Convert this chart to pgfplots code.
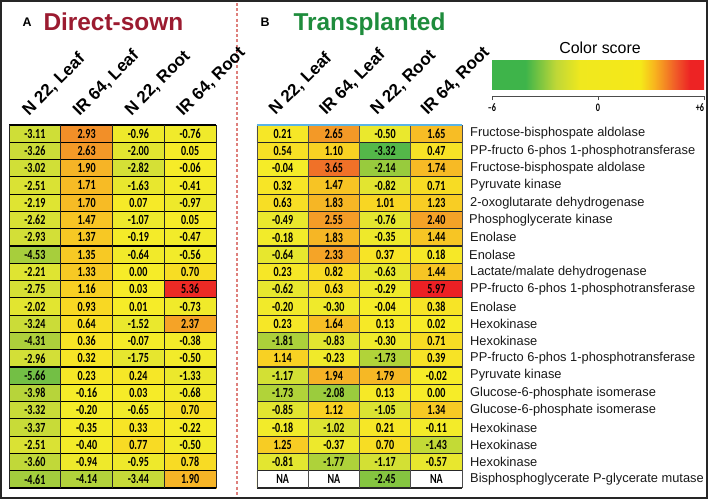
\documentclass[border=0pt]{standalone}
\usepackage{pgfplots}
\pgfplotsset{compat=1.18}
\usepackage{pgfplotstable}
\usepackage{fontspec}
\setmainfont{Liberation Sans}
\newfontfamily\numfont[FakeStretch=0.72]{Carlito}
\definecolor{dsred}{RGB}{155,27,48}
\definecolor{tpgreen}{RGB}{30,140,60}
\definecolor{dashred}{RGB}{222,128,124}
\definecolor{topblue}{RGB}{90,180,230}
\pgfdeclarehorizontalshading{cscore}{100bp}{rgb(0bp)=(0.243,0.706,0.290); rgb(25bp)=(0.243,0.706,0.290); rgb(32.9bp)=(0.243,0.706,0.290); rgb(40bp)=(0.745,0.843,0.216); rgb(45.8bp)=(0.941,0.910,0.118); rgb(60bp)=(0.961,0.910,0.098); rgb(63.3bp)=(0.973,0.706,0.118); rgb(68.3bp)=(0.941,0.353,0.157); rgb(71.7bp)=(0.929,0.137,0.141); rgb(75bp)=(0.929,0.137,0.141); rgb(100bp)=(0.929,0.137,0.141)}

\pgfplotsset{
  colormap={cmA}{rgb255(0pt)=(100,186,72); rgb255(3pt)=(168,206,60); rgb255(6pt)=(210,223,55); rgb255(9pt)=(234,232,45); rgb255(12pt)=(246,236,40); rgb255(14pt)=(248,214,35); rgb255(16pt)=(246,176,38); rgb255(18pt)=(242,140,40); rgb255(20pt)=(239,98,40); rgb255(22pt)=(236,48,38); rgb255(24pt)=(236,32,36)},
  colormap={cmB}{rgb255(0pt)=(70,180,75); rgb255(5pt)=(75,181,74); rgb255(6pt)=(100,188,70); rgb255(8pt)=(160,205,60); rgb255(10pt)=(222,228,50); rgb255(12pt)=(246,236,40); rgb255(14pt)=(248,214,35); rgb255(16pt)=(246,176,38); rgb255(18pt)=(242,140,40); rgb255(20pt)=(239,98,40); rgb255(22pt)=(236,48,38); rgb255(24pt)=(236,32,36)},
  heat/.style={width=#1, height=363bp, scale only axis, xmin=0.5, xmax=4.5, ymin=0.5, ymax=21.5, y dir=reverse, axis lines=none, clip=false, point meta min=-6, point meta max=6, anchor=north west},
  celltext/.style={only marks, mark=none, point meta=explicit symbolic, nodes near coords, every node near coord/.append style={anchor=center, inner sep=0pt, font=\numfont\bfseries\fontsize{14}{14}\selectfont, text=black}},
}
\tikzset{
  hdr/.style={rotate=45, anchor=base west, inner sep=0pt, font=\bfseries\fontsize{17}{17}\selectfont},
  rlab/.style={anchor=west, inner sep=0pt, text=black!90, font=\fontsize{12.9}{13}\selectfont},
}

\pgfplotstableread{
c r v lab
1 1 -3.11 -3.11
2 1 2.93 2.93
3 1 -0.96 -0.96
4 1 -0.76 -0.76
1 2 -3.26 -3.26
2 2 2.63 2.63
3 2 -2.00 -2.00
4 2 0.05 0.05
1 3 -3.02 -3.02
2 3 1.90 1.90
3 3 -2.82 -2.82
4 3 -0.06 -0.06
1 4 -2.51 -2.51
2 4 1.71 1.71
3 4 -1.63 -1.63
4 4 -0.41 -0.41
1 5 -2.19 -2.19
2 5 1.70 1.70
3 5 0.07 0.07
4 5 -0.97 -0.97
1 6 -2.62 -2.62
2 6 1.47 1.47
3 6 -1.07 -1.07
4 6 0.05 0.05
1 7 -2.93 -2.93
2 7 1.37 1.37
3 7 -0.19 -0.19
4 7 -0.47 -0.47
1 8 -4.53 -4.53
2 8 1.35 1.35
3 8 -0.64 -0.64
4 8 -0.56 -0.56
1 9 -2.21 -2.21
2 9 1.33 1.33
3 9 0.00 0.00
4 9 0.70 0.70
1 10 -2.75 -2.75
2 10 1.16 1.16
3 10 0.03 0.03
4 10 5.36 5.36
1 11 -2.02 -2.02
2 11 0.93 0.93
3 11 0.01 0.01
4 11 -0.73 -0.73
1 12 -3.24 -3.24
2 12 0.64 0.64
3 12 -1.52 -1.52
4 12 2.37 2.37
1 13 -4.31 -4.31
2 13 0.36 0.36
3 13 -0.07 -0.07
4 13 -0.38 -0.38
1 14 -2.96 -2.96
2 14 0.32 0.32
3 14 -1.75 -1.75
4 14 -0.50 -0.50
1 15 -5.66 -5.66
2 15 0.23 0.23
3 15 0.24 0.24
4 15 -1.33 -1.33
1 16 -3.98 -3.98
2 16 -0.16 -0.16
3 16 0.03 0.03
4 16 -0.68 -0.68
1 17 -3.32 -3.32
2 17 -0.20 -0.20
3 17 -0.65 -0.65
4 17 0.70 0.70
1 18 -3.37 -3.37
2 18 -0.35 -0.35
3 18 0.33 0.33
4 18 -0.22 -0.22
1 19 -2.51 -2.51
2 19 -0.40 -0.40
3 19 0.77 0.77
4 19 -0.50 -0.50
1 20 -3.60 -3.60
2 20 -0.94 -0.94
3 20 -0.95 -0.95
4 20 0.78 0.78
1 21 -4.61 -4.61
2 21 -4.14 -4.14
3 21 -3.44 -3.44
4 21 1.90 1.90
}\tabA

\pgfplotstableread{
c r v lab
1 1 0.21 0.21
2 1 2.65 2.65
3 1 -0.50 -0.50
4 1 1.65 1.65
1 2 0.54 0.54
2 2 1.10 1.10
3 2 -3.32 -3.32
4 2 0.47 0.47
1 3 -0.04 -0.04
2 3 3.65 3.65
3 3 -2.14 -2.14
4 3 1.74 1.74
1 4 0.32 0.32
2 4 1.47 1.47
3 4 -0.82 -0.82
4 4 0.71 0.71
1 5 0.63 0.63
2 5 1.83 1.83
3 5 1.01 1.01
4 5 1.23 1.23
1 6 -0.49 -0.49
2 6 2.55 2.55
3 6 -0.76 -0.76
4 6 2.40 2.40
1 7 -0.18 -0.18
2 7 1.83 1.83
3 7 -0.35 -0.35
4 7 1.44 1.44
1 8 -0.64 -0.64
2 8 2.33 2.33
3 8 0.37 0.37
4 8 0.18 0.18
1 9 0.23 0.23
2 9 0.82 0.82
3 9 -0.63 -0.63
4 9 1.44 1.44
1 10 -0.62 -0.62
2 10 0.63 0.63
3 10 -0.29 -0.29
4 10 5.97 5.97
1 11 -0.20 -0.20
2 11 -0.30 -0.30
3 11 -0.04 -0.04
4 11 0.38 0.38
1 12 0.23 0.23
2 12 1.64 1.64
3 12 0.13 0.13
4 12 0.02 0.02
1 13 -1.81 -1.81
2 13 -0.83 -0.83
3 13 -0.30 -0.30
4 13 0.71 0.71
1 14 1.14 1.14
2 14 -0.23 -0.23
3 14 -1.73 -1.73
4 14 0.39 0.39
1 15 -1.17 -1.17
2 15 1.94 1.94
3 15 1.79 1.79
4 15 -0.02 -0.02
1 16 -1.73 -1.73
2 16 -2.08 -2.08
3 16 0.13 0.13
4 16 0.00 0.00
1 17 -0.85 -0.85
2 17 1.12 1.12
3 17 -1.05 -1.05
4 17 1.34 1.34
1 18 -0.18 -0.18
2 18 -1.02 -1.02
3 18 0.21 0.21
4 18 -0.11 -0.11
1 19 1.25 1.25
2 19 -0.37 -0.37
3 19 0.70 0.70
4 19 -1.43 -1.43
1 20 -0.81 -0.81
2 20 -1.77 -1.77
3 20 -1.17 -1.17
4 20 -0.57 -0.57
1 21 0 NA
2 21 0 NA
3 21 -2.45 -2.45
4 21 0 NA
}\tabB

\begin{document}
\begin{tikzpicture}
% ---------- frame axis (pixel coordinates) ----------
\begin{axis}[at={(0,0)}, anchor=north west, width=708bp, height=499bp, scale only axis,
  xmin=0, xmax=708, ymin=0, ymax=499, y dir=reverse, axis lines=none, clip=false]
  \draw[line width=1.6bp, black!85] (axis cs:0.8,0.8) rectangle (axis cs:707.2,498.2);
  \draw[dashred, line width=1.3bp, dash pattern=on 3bp off 2.2bp] (axis cs:237,3) -- (axis cs:237,496);
  % titles
  \node[anchor=base west, font=\bfseries\fontsize{12.5}{13}\selectfont] at (axis cs:19,26) {A};
  \node[anchor=base west, font=\bfseries\fontsize{24.5}{25}\selectfont, text=dsred] at (axis cs:40,30) {Direct-sown};
  \node[anchor=base west, font=\bfseries\fontsize{12.5}{13}\selectfont] at (axis cs:257,26) {B};
  \node[anchor=base west, font=\bfseries\fontsize{24.5}{25}\selectfont, text=tpgreen] at (axis cs:290,30) {Transplanted};
  % column headers
  \node[hdr] at (axis cs:28.9,116.5) {N 22, Leaf};
  \node[hdr] at (axis cs:79.6,116.5) {IR 64, Leaf};
  \node[hdr] at (axis cs:131.4,116.5) {N 22, Root};
  \node[hdr] at (axis cs:183.1,116.5) {IR 64, Root};
  \node[hdr] at (axis cs:275.6,116) {N 22, Leaf};
  \node[hdr] at (axis cs:325.9,116) {IR 64, Leaf};
  \node[hdr] at (axis cs:377.1,116) {N 22, Root};
  \node[hdr] at (axis cs:427.4,116) {IR 64, Root};
  % colour score legend
  \node[font=\fontsize{16}{16}\selectfont] at (axis cs:600,48) {Color score};
  \shade[shading=cscore] (axis cs:492,60) rectangle (axis cs:704,89);
  \draw[black!70, line width=0.8bp] (axis cs:492,100) -- (axis cs:492,96) -- (axis cs:704,96) -- (axis cs:704,100);
  \draw[black!70, line width=0.8bp] (axis cs:598,96) -- (axis cs:598,100);
  \node[font=\numfont\bfseries\fontsize{11.5}{11.5}\selectfont] at (axis cs:492,108) {\textendash6};
  \node[font=\numfont\bfseries\fontsize{11.5}{11.5}\selectfont] at (axis cs:598,108) {0};
  \node[font=\numfont\bfseries\fontsize{11.5}{11.5}\selectfont] at (axis cs:700,108) {+6};
  % row labels
  \node[rlab] at (axis cs:470,133.64) {Fructose-bisphospate aldolase};
  \node[rlab] at (axis cs:470,150.93) {PP-fructo 6-phos 1-phosphotransferase};
  \node[rlab] at (axis cs:470,168.21) {Fructose-bisphospate aldolase};
  \node[rlab] at (axis cs:470,185.50) {Pyruvate kinase};
  \node[rlab] at (axis cs:470,202.79) {2-oxoglutarate dehydrogenase};
  \node[rlab] at (axis cs:469,220.07) {Phosphoglycerate kinase};
  \node[rlab] at (axis cs:470,237.36) {Enolase};
  \node[rlab] at (axis cs:469,254.64) {Enolase};
  \node[rlab] at (axis cs:470,271.93) {Lactate/malate dehydrogenase};
  \node[rlab] at (axis cs:470,289.22) {PP-fructo 6-phos 1-phosphotransferase};
  \node[rlab] at (axis cs:470,306.50) {Enolase};
  \node[rlab] at (axis cs:470,323.79) {Hexokinase};
  \node[rlab] at (axis cs:470,341.07) {Hexokinase};
  \node[rlab] at (axis cs:470,358.36) {PP-fructo 6-phos 1-phosphotransferase};
  \node[rlab] at (axis cs:470,375.65) {Pyruvate kinase};
  \node[rlab] at (axis cs:470,392.93) {Glucose-6-phosphate isomerase};
  \node[rlab] at (axis cs:470,410.22) {Glucose-6-phosphate isomerase};
  \node[rlab] at (axis cs:470,427.50) {Hexokinase};
  \node[rlab] at (axis cs:470,444.79) {Hexokinase};
  \node[rlab] at (axis cs:470,462.08) {Hexokinase};
  \node[rlab] at (axis cs:470,479.36) {Bisphosphoglycerate P-glycerate mutase};
\end{axis}

% ---------- panel A ----------
\begin{axis}[heat=207bp, at={(9bp,-125bp)}, colormap name=cmA]
  \addplot[matrix plot*, mesh/cols=4, point meta=explicit] table[x=c, y=r, meta=v] {\tabA};
  \pgfplotsinvokeforeach{0,...,21}{\draw[black, line width=1.1bp] (axis cs:0.5,#1+0.5) -- (axis cs:4.5,#1+0.5);}
  \pgfplotsinvokeforeach{0,...,4}{\draw[black!85, line width=1bp] (axis cs:#1+0.5,0.5) -- (axis cs:#1+0.5,21.5);}
  \addplot[celltext] table[x=c, y=r, meta=lab] {\tabA};
\end{axis}

% ---------- panel B ----------
\begin{axis}[heat=205bp, at={(257bp,-125bp)}, colormap name=cmB]
  \addplot[matrix plot*, mesh/cols=4, point meta=explicit] table[x=c, y=r, meta=v] {\tabB};
  \fill[white] (axis cs:0.5,20.5) rectangle (axis cs:2.5,21.5);
  \fill[white] (axis cs:3.5,20.5) rectangle (axis cs:4.5,21.5);
  \pgfplotsinvokeforeach{0,...,21}{\draw[black!85, line width=1.1bp] (axis cs:0.5,#1+0.5) -- (axis cs:4.5,#1+0.5);}
  \pgfplotsinvokeforeach{0,...,4}{\draw[black!70, line width=1bp] (axis cs:#1+0.5,0.5) -- (axis cs:#1+0.5,21.5);}
  \draw[topblue, line width=1.2bp] (axis cs:0.5,0.5) -- (axis cs:4.5,0.5);
  \addplot[celltext] table[x=c, y=r, meta=lab] {\tabB};
\end{axis}
\end{tikzpicture}
\end{document}
